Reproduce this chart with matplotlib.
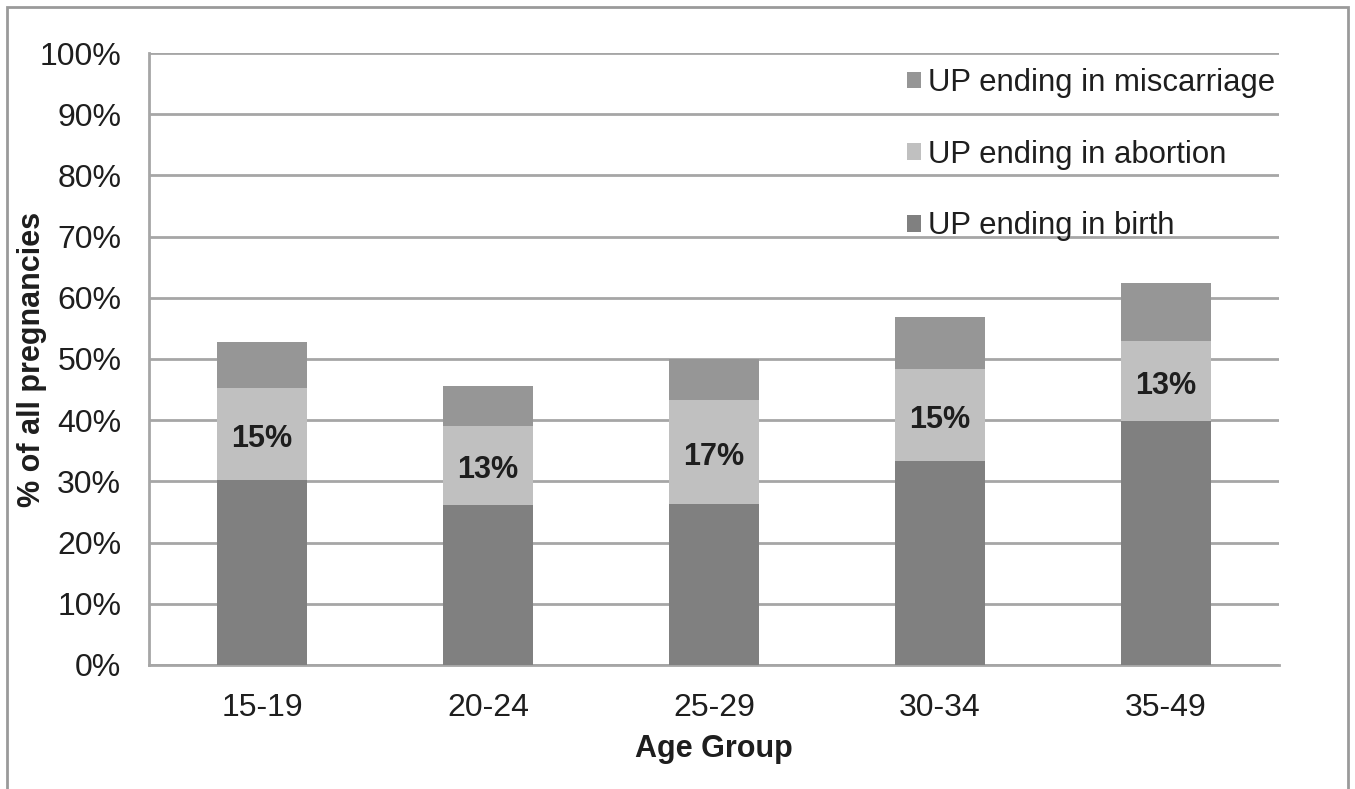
import matplotlib.pyplot as plt
import numpy as np
from matplotlib.patches import Rectangle

plt.rcParams['font.family'] = ['Liberation Sans', 'DejaVu Sans']

age_groups = ["15-19", "20-24", "25-29", "30-34", "35-49"]
up_birth = [30.2, 26.1, 26.3, 33.3, 39.9]
up_abortion = [15, 13, 17, 15, 13]
up_miscarriage = [7.6, 6.5, 6.7, 8.5, 9.6]

c_birth = "#808080"
c_abortion = "#c0c0c0"
c_misc = "#969696"
grid_c = "#a6a6a6"
txt_c = "#1e1e1e"

fig = plt.figure(figsize=(13.55, 7.89), dpi=100)
ax = fig.add_axes([0.110, 0.1572, 0.834, 0.7756])

# outer frame around the chart
fig.patches.append(Rectangle((7 / 1355, -0.05), 1341 / 1355, 1.05 - 7 / 789,
                             transform=fig.transFigure, fill=False,
                             edgecolor="#9a9a9a", linewidth=2))

x = np.arange(len(age_groups))
w = 0.40
birth = np.array(up_birth)
abortion = np.array(up_abortion)
misc = np.array(up_miscarriage)

b1 = ax.bar(x, birth, w, color=c_birth, label="UP ending in birth", zorder=3)
b2 = ax.bar(x, abortion, w, bottom=birth, color=c_abortion,
            label="UP ending in abortion", zorder=3)
b3 = ax.bar(x, misc, w, bottom=birth + abortion, color=c_misc,
            label="UP ending in miscarriage", zorder=3)

ax.bar_label(b2, labels=[f"{v:.0f}%" for v in up_abortion], label_type="center",
             padding=-3.5, fontsize=22, fontweight="bold", color=txt_c)

ax.set_xlim(-0.5, 4.5)
ax.set_ylim(0, 100)
ax.set_yticks(np.arange(0, 101, 10))
ax.set_yticklabels([f"{v}%" for v in range(0, 101, 10)])
ax.set_xticks(x)
ax.set_xticklabels(age_groups)
ax.tick_params(axis="both", length=0, labelsize=23, colors=txt_c)
ax.tick_params(axis="y", pad=20)
ax.tick_params(axis="x", pad=20)

ax.yaxis.grid(True, color=grid_c, linewidth=2, zorder=0)
for s in ["top", "right"]:
    ax.spines[s].set_visible(False)
ax.spines["left"].set_color(grid_c)
ax.spines["left"].set_linewidth(2)
ax.spines["bottom"].set_color(grid_c)
ax.spines["bottom"].set_linewidth(2)

ax.set_xlabel("Age Group", fontsize=22, fontweight="bold", color=txt_c, labelpad=8)
ax.set_ylabel("% of all pregnancies", fontsize=22, fontweight="bold", color=txt_c)
ax.yaxis.set_label_coords(-0.090, 0.5)

h, l = ax.get_legend_handles_labels()
leg = ax.legend(h[::-1], l[::-1], loc="upper left", bbox_to_anchor=(0.651, 1.011),
                frameon=False, fontsize=22.4, labelspacing=1.34, handlelength=0.45,
                handleheight=0.45, handletextpad=0.25, borderpad=0.2,
                labelcolor=txt_c)

fig.savefig("out.png", dpi=100)
